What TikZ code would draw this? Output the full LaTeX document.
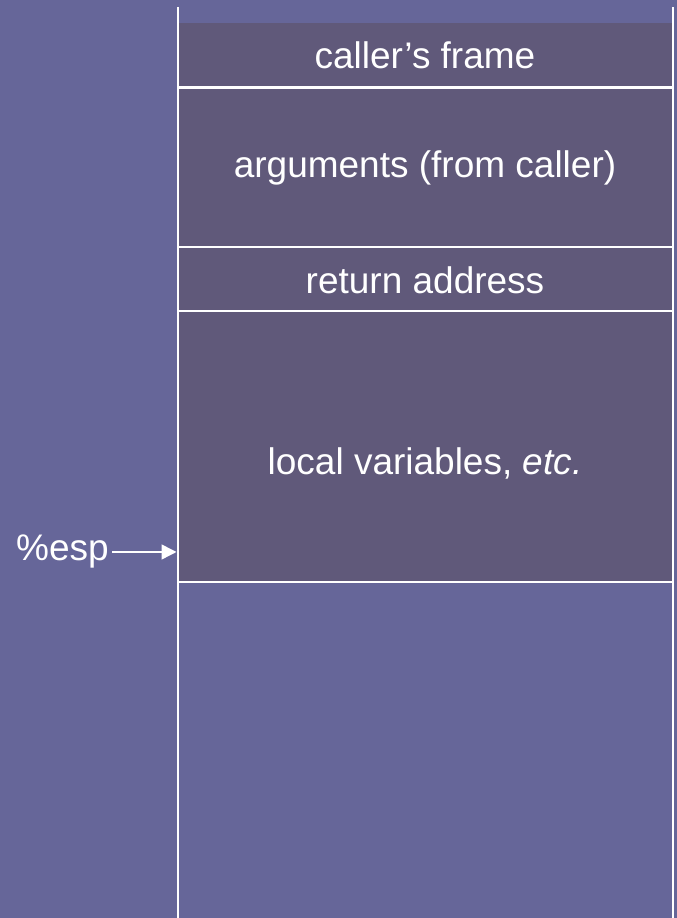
\documentclass[tikz,border=0pt]{standalone}
\usepackage{fontspec}
\setmainfont{Liberation Sans}
\usetikzlibrary{arrows.meta}
\definecolor{bgcol}{RGB}{102,102,153}
\definecolor{framecol}{RGB}{96,89,122}
\tikzset{
  lbl/.style={text=white, font=\fontsize{37}{40}\selectfont, inner sep=0pt},
  wline/.style={draw=white, line width=2pt},
  cell/.style={fill=framecol, draw=none, minimum width=495pt, inner sep=0pt, anchor=north}
}
\begin{document}
\begin{tikzpicture}[x=1pt,y=1pt]
  \fill[bgcol] (0,0) rectangle (677,918);
  \useasboundingbox (0,0) rectangle (677,918);
  % frame cells
  \node[cell, minimum height=559pt] (frame) at (425.25,895) {};
  \coordinate (tl) at (177.5,911);
  \coordinate (tr) at (673,911);
  \coordinate (bl) at (177.5,0);
  \coordinate (br) at (673,0);
  % text labels
  \node[lbl] (caller) at (425,863) {caller’s frame};
  \node[lbl] (args) at (425,750) {arguments (from caller)};
  \node[lbl] (ret) at (425,638) {return address};
  \node[lbl] (locals) at (425,455) {local variables, \textit{etc.}};
  % separators
  \coordinate (s1l) at (177.5,830); \coordinate (s1r) at (673,830);
  \coordinate (s2l) at (177.5,671); \coordinate (s2r) at (673,671);
  \coordinate (s3l) at (177.5,607); \coordinate (s3r) at (673,607);
  \coordinate (s4l) at (177.5,336); \coordinate (s4r) at (673,336);
  \draw[wline, line width=3pt] (s1l) -- (s1r);
  \draw[wline] (s2l) -- (s2r);
  \draw[wline] (s3l) -- (s3r);
  \draw[wline] (s4l) -- (s4r);
  \draw[wline] (tl) -- (bl);
  \draw[wline] (tr) -- (br);
  % stack pointer
  \node[lbl, anchor=east] (esp) at (109,366) {\%esp};
  \coordinate (sp) at (176.5,366);
  \draw[white, line width=1.5pt, -{Triangle[length=15pt,width=15pt]}] ([xshift=3pt]esp.east) -- (sp);
\end{tikzpicture}
\end{document}
